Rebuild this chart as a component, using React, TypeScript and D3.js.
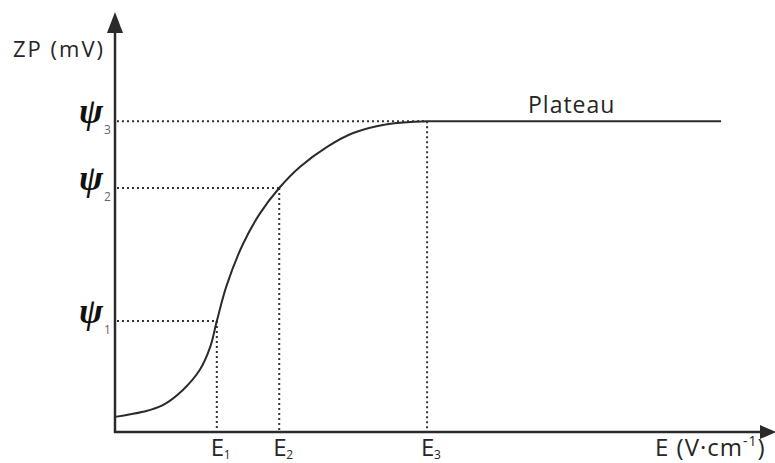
import React from "react";
import * as d3 from "d3";

const curveE = [0, 0.46, 0.79, 1.12, 1.4, 1.57, 1.68, 1.84, 2.11, 2.39, 2.71, 3.05, 3.5, 3.93, 4.49, 5.15, 10];
const curveZP = [0.36, 0.48, 0.64, 1.0, 1.48, 2.02, 2.64, 3.48, 4.47, 5.2, 5.81, 6.31, 6.79, 7.12, 7.33, 7.4, 7.4];

const markerE = [1.68, 2.71, 5.15];
const markerPsi = [2.64, 5.81, 7.4];
const markerLabels = ["1", "2", "3"];

const W = 775;
const H = 463;

export default function App() {
  const x = d3.scaleLinear().domain([0, 10]).range([115, 721]);
  const y = d3.scaleLinear().domain([0, 10]).range([432, 12]);
  const pts: [number, number][] = curveE.map((e, i) => [e, curveZP[i]]);
  const smooth = d3
    .line<[number, number]>()
    .x((d) => x(d[0]))
    .y((d) => y(d[1]))
    .curve(d3.curveCatmullRom.alpha(0.5));
  const straight = d3
    .line<[number, number]>()
    .x((d) => x(d[0]))
    .y((d) => y(d[1]));

  const x0 = x(0);
  const y0 = y(0);
  const textColor = "#262626";
  const sans = "'Open Sans', 'Noto Sans', sans-serif";

  return (
    <svg
      width={W}
      height={H}
      style={{ position: "absolute", left: 0, top: 0, background: "#fff" }}
    >
      {/* dotted guides */}
      {markerE.map((e, i) => (
        <g key={"g" + i} stroke="#333" strokeWidth={2} strokeDasharray="2,3" fill="none">
          <line x1={x0 + 2} x2={x(e)} y1={y(markerPsi[i])} y2={y(markerPsi[i])} />
          <line x1={x(e)} x2={x(e)} y1={y(markerPsi[i])} y2={y0 - 1} />
        </g>
      ))}
      {/* curve */}
      <path d={smooth(pts.slice(0, -1)) || ""} fill="none" stroke="#2b2b2b" strokeWidth={2} />
      <path d={straight(pts.slice(-2)) || ""} fill="none" stroke="#2b2b2b" strokeWidth={2} />
      {/* axes */}
      <line x1={x0} x2={x0} y1={y0 + 1} y2={28} stroke="#2b2b2b" strokeWidth={2.5} />
      <path d={`M${x0 - 8},33 L${x0},12 L${x0 + 8},33 Z`} fill="#2b2b2b" />
      <line x1={x0 - 1} x2={762} y1={y0} y2={y0} stroke="#2b2b2b" strokeWidth={2.5} />
      <path d={`M760,${y0 - 7} L776,${y0} L760,${y0 + 7} Z`} fill="#2b2b2b" />

      {/* psi labels */}
      {markerPsi.map((p, i) => (
        <g key={"p" + i}>
          <text
            x={103}
            y={y(p) + 2}
            textAnchor="end"
            fontFamily="'Liberation Serif', 'DejaVu Serif', serif"
            fontWeight="bold"
            fontStyle="italic"
            fontSize={36}
            fill="#111"
          >
            ψ
          </text>
          <text x={104} y={y(p) + 13} fontFamily={sans} fontSize={12} fill="#666">
            {markerLabels[i]}
          </text>
        </g>
      ))}

      {/* E labels */}
      {markerE.map((e, i) => (
        <g key={"e" + i}>
          <text x={x(e) - 6} y={456} fontFamily={sans} fontSize={24} fill={textColor}>
            E
          </text>
          <text x={x(e) + 7} y={459} fontFamily={sans} fontSize={12} fill={textColor}>
            {markerLabels[i]}
          </text>
        </g>
      ))}

      {/* axis titles */}
      <text x={13} y={57} fontFamily={sans} fontSize={22} letterSpacing={2} fill={textColor}>
        ZP (mV)
      </text>
      <text x={655} y={456} fontFamily={sans} fontSize={24} letterSpacing={1} fill={textColor}>
        E (V·cm
        <tspan dy={-10} fontSize={14}>-1</tspan>
        <tspan dy={10}>)</tspan>
      </text>
      <text x={528} y={113} fontFamily={sans} fontSize={23} letterSpacing={1} fill={textColor}>
        Plateau
      </text>
    </svg>
  );
}
